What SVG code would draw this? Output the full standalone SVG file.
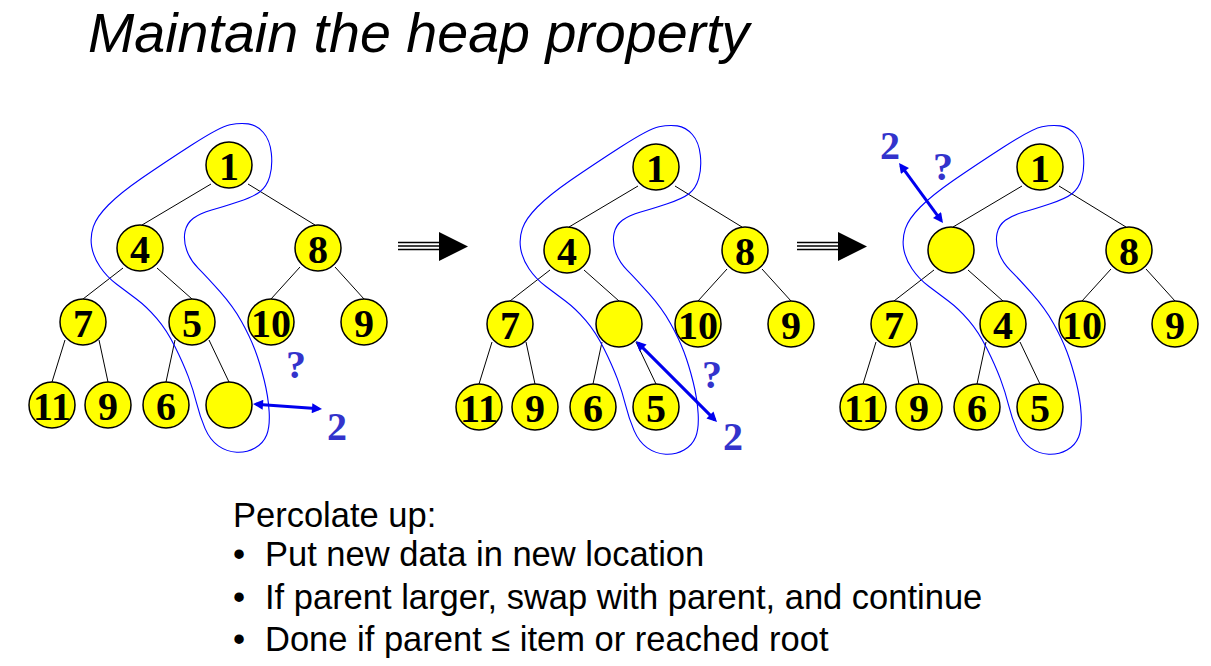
<svg xmlns="http://www.w3.org/2000/svg" width="1211" height="666" viewBox="0 0 1211 666">
<style>
.n circle{fill:#ffff00;stroke:#000;stroke-width:1.5}
.n text{font-family:"Liberation Serif","Times New Roman",serif;font-weight:bold;font-size:40px;fill:#000;text-anchor:middle}
.e line{stroke:#000;stroke-width:1}
.hull{fill:none;stroke:#0000ff;stroke-width:1.1}
.ba{stroke:#0000ee;stroke-width:3;fill:none}
.bl{font-family:"Liberation Serif","Times New Roman",serif;font-weight:bold;font-size:40px;fill:#3333cc;text-anchor:middle}
.body{font-family:"Liberation Sans",Arial,sans-serif;font-size:34.5px;fill:#000}
.big line{stroke:#000;stroke-width:1.6}
</style>
<defs>
<marker id="ah" viewBox="0 0 10 10" refX="7" refY="5" markerWidth="12" markerHeight="10" markerUnits="userSpaceOnUse" orient="auto-start-reverse">
<path d="M0,0 L10,5 L0,10 Z" fill="#0000ee"/>
</marker>
<path id="hullpath" d="M230,124.7 Q220,126.7 191.650,145 Q163.3,163.3 141.65,178.3 Q120,193.3 108.35,205 Q96.7,216.7 93.35,226.7 Q90,236.7 91.65,246.7 Q93.3,256.7 100,266.7 Q106.7,276.7 116.7,284.2 Q126.7,291.7 136.7,299.2 Q146.7,306.7 156.7,318.35 Q166.7,330 175,346.65 Q183.3,363.3 188.3,376.65 Q193.3,390 196.65,403.35 Q200,416.7 205,428.35 Q210,440 218.35,445.85 Q226.7,451.7 236.7,452.2 Q246.7,452.7 255,448 Q263.3,443.3 266.65,435 Q270,426.7 269.15,411.7 Q268.3,396.7 264.15,380 Q260,363.3 255,350 Q250,336.7 241.65,321.7 Q233.3,306.7 220,291.7 Q206.7,276.7 198.35,268.35 Q190,260 186.65,250 Q183.3,240 185,231.65 Q186.7,223.3 193.35,218.3 Q200,213.3 211.65,210 Q223.3,206.7 238.3,201.7 Q253.3,196.7 260,191.7 Q266.7,186.7 269.7,176.7 Q272.7,166.7 271.35,153.35 Q270,140 263.35,132.5 Q256.7,125 248.35,123.85 Q240,122.7 230,124.7 Z"/>
</defs>
<rect width="1211" height="666" fill="#fff"/>

<text id="title" x="88" y="52" font-family="'Liberation Sans',Arial,sans-serif" font-style="italic" font-size="55.6" fill="#000">Maintain the heap property</text>

<g id="connectors">
<g id="edges1" class="e">
<line x1="211" y1="184" x2="142" y2="225"/><line x1="248" y1="184" x2="315" y2="225"/>
<line x1="123" y1="268" x2="83" y2="299"/><line x1="157" y1="268" x2="192" y2="299"/>
<line x1="300" y1="267" x2="271" y2="299"/><line x1="335" y1="267" x2="364" y2="299"/>
<line x1="65" y1="340" x2="52" y2="382"/><line x1="99" y1="340" x2="108" y2="382"/>
<line x1="175" y1="340" x2="166" y2="382"/><line x1="209" y1="340" x2="229" y2="382"/>
</g>
<g id="edges2" class="e" transform="translate(427,2)">
<line x1="211" y1="184" x2="142" y2="225"/><line x1="248" y1="184" x2="315" y2="225"/>
<line x1="123" y1="268" x2="83" y2="299"/><line x1="157" y1="268" x2="192" y2="299"/>
<line x1="300" y1="267" x2="271" y2="299"/><line x1="335" y1="267" x2="364" y2="299"/>
<line x1="65" y1="340" x2="52" y2="382"/><line x1="99" y1="340" x2="108" y2="382"/>
<line x1="175" y1="340" x2="166" y2="382"/><line x1="209" y1="340" x2="229" y2="382"/>
</g>
<g id="edges3" class="e" transform="translate(811,2)">
<line x1="211" y1="184" x2="142" y2="225"/><line x1="248" y1="184" x2="315" y2="225"/>
<line x1="123" y1="268" x2="83" y2="299"/><line x1="157" y1="268" x2="192" y2="299"/>
<line x1="300" y1="267" x2="271" y2="299"/><line x1="335" y1="267" x2="364" y2="299"/>
<line x1="65" y1="340" x2="52" y2="382"/><line x1="99" y1="340" x2="108" y2="382"/>
<line x1="175" y1="340" x2="166" y2="382"/><line x1="209" y1="340" x2="229" y2="382"/>
</g>
</g>

<g id="tree1">
<g id="t1n1" class="n"><circle cx="229" cy="165" r="23"/><text x="229" y="180">1</text></g>
<g id="t1n4" class="n"><circle cx="140" cy="248" r="23"/><text x="140" y="263">4</text></g>
<g id="t1n8" class="n"><circle cx="318" cy="248" r="23"/><text x="318" y="263">8</text></g>
<g id="t1n7" class="n"><circle cx="83" cy="322" r="23"/><text x="83" y="337">7</text></g>
<g id="t1n5" class="n"><circle cx="192" cy="322" r="23"/><text x="192" y="337">5</text></g>
<g id="t1n10" class="n"><circle cx="271" cy="322" r="23"/><text x="271" y="337">10</text></g>
<g id="t1n9a" class="n"><circle cx="364" cy="322" r="23"/><text x="364" y="337">9</text></g>
<g id="t1n11" class="n"><circle cx="52" cy="405" r="23"/><text x="52" y="420">11</text></g>
<g id="t1n9b" class="n"><circle cx="108" cy="405" r="23"/><text x="108" y="420">9</text></g>
<g id="t1n6" class="n"><circle cx="166" cy="405" r="23"/><text x="166" y="420">6</text></g>
<g id="t1new" class="n"><circle cx="229" cy="405" r="23"/></g>
</g>

<g id="tree2" transform="translate(427,2)">
<g id="t2n1" class="n"><circle cx="229" cy="165" r="23"/><text x="229" y="180">1</text></g>
<g id="t2n4" class="n"><circle cx="140" cy="248" r="23"/><text x="140" y="263">4</text></g>
<g id="t2n8" class="n"><circle cx="318" cy="248" r="23"/><text x="318" y="263">8</text></g>
<g id="t2n7" class="n"><circle cx="83" cy="322" r="23"/><text x="83" y="337">7</text></g>
<g id="t2new" class="n"><circle cx="192" cy="322" r="23"/></g>
<g id="t2n10" class="n"><circle cx="271" cy="322" r="23"/><text x="271" y="337">10</text></g>
<g id="t2n9a" class="n"><circle cx="364" cy="322" r="23"/><text x="364" y="337">9</text></g>
<g id="t2n11" class="n"><circle cx="52" cy="405" r="23"/><text x="52" y="420">11</text></g>
<g id="t2n9b" class="n"><circle cx="108" cy="405" r="23"/><text x="108" y="420">9</text></g>
<g id="t2n6" class="n"><circle cx="166" cy="405" r="23"/><text x="166" y="420">6</text></g>
<g id="t2n5" class="n"><circle cx="229" cy="405" r="23"/><text x="229" y="420">5</text></g>
</g>

<g id="tree3" transform="translate(811,2)">
<g id="t3n1" class="n"><circle cx="229" cy="165" r="23"/><text x="229" y="180">1</text></g>
<g id="t3new" class="n"><circle cx="140" cy="248" r="23"/></g>
<g id="t3n8" class="n"><circle cx="318" cy="248" r="23"/><text x="318" y="263">8</text></g>
<g id="t3n7" class="n"><circle cx="83" cy="322" r="23"/><text x="83" y="337">7</text></g>
<g id="t3n4" class="n"><circle cx="192" cy="322" r="23"/><text x="192" y="337">4</text></g>
<g id="t3n10" class="n"><circle cx="271" cy="322" r="23"/><text x="271" y="337">10</text></g>
<g id="t3n9a" class="n"><circle cx="364" cy="322" r="23"/><text x="364" y="337">9</text></g>
<g id="t3n11" class="n"><circle cx="52" cy="405" r="23"/><text x="52" y="420">11</text></g>
<g id="t3n9b" class="n"><circle cx="108" cy="405" r="23"/><text x="108" y="420">9</text></g>
<g id="t3n6" class="n"><circle cx="166" cy="405" r="23"/><text x="166" y="420">6</text></g>
<g id="t3n5" class="n"><circle cx="229" cy="405" r="23"/><text x="229" y="420">5</text></g>
</g>

<g id="hulls">
<use href="#hullpath" class="hull"/>
<use href="#hullpath" class="hull" transform="translate(429,2)"/>
<use href="#hullpath" class="hull" transform="translate(812,2)"/>
</g>

<g id="swap1">
<line class="ba" x1="256" y1="404.2" x2="319" y2="408.8" marker-start="url(#ah)" marker-end="url(#ah)"/>
<text class="bl" x="296" y="378" font-size="38">?</text>
<text class="bl" x="337" y="440">2</text>
</g>
<g id="swap2">
<line class="ba" x1="638.1" y1="343.1" x2="714.9" y2="419.9" marker-start="url(#ah)" marker-end="url(#ah)"/>
<text class="bl" x="712" y="388" font-size="38">?</text>
<text class="bl" x="733" y="450">2</text>
</g>
<g id="swap3">
<line class="ba" x1="900.8" y1="165.4" x2="941.2" y2="220.6" marker-start="url(#ah)" marker-end="url(#ah)"/>
<text class="bl" x="943" y="180" font-size="38">?</text>
<text class="bl" x="890" y="159">2</text>
</g>

<g id="step1" class="big">
<line x1="398" y1="242.5" x2="441" y2="242.5"/><line x1="398" y1="246" x2="441" y2="246"/><line x1="398" y1="249.5" x2="441" y2="249.5"/>
<polygon points="439,232 468,246.5 439,261" fill="#000"/>
</g>
<g id="step2" class="big">
<line x1="797" y1="242.5" x2="840" y2="242.5"/><line x1="797" y1="246" x2="840" y2="246"/><line x1="797" y1="249.5" x2="840" y2="249.5"/>
<polygon points="838,232 867,246.5 838,261" fill="#000"/>
</g>

<g id="notes" class="body">
<text x="233" y="527">Percolate up:</text>
<text x="233" y="566">•</text><text x="265" y="566">Put new data in new location</text>
<text x="233" y="609">•</text><text x="265" y="609">If parent larger, swap with parent, and continue</text>
<text x="233" y="651">•</text><text x="265" y="651">Done if parent ≤ item or reached root</text>
</g>
</svg>
